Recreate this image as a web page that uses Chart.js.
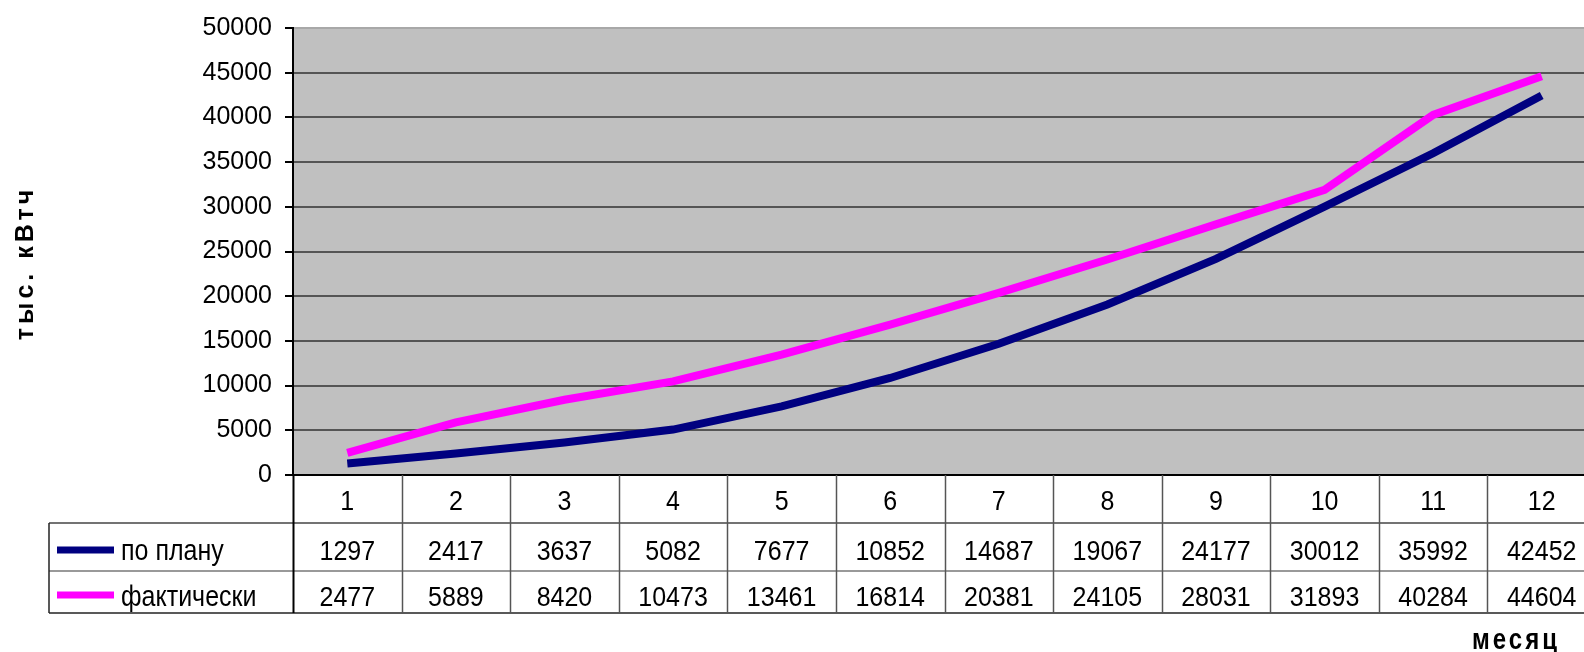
<!DOCTYPE html>
<html>
<head>
<meta charset="utf-8">
<script src="https://cdn.jsdelivr.net/npm/chart.js@4"></script>
<style>
  html, body { margin: 0; padding: 0; background: #fff; overflow: hidden; }
  #wrap { position: absolute; left: 0; top: 0; width: 1600px; height: 652px; }
</style>
</head>
<body>
<div id="wrap"><canvas id="c" width="1600" height="652"></canvas></div>
<script>
const months = ['1','2','3','4','5','6','7','8','9','10','11','12'];
const planValues = [1297, 2417, 3637, 5082, 7677, 10852, 14687, 19067, 24177, 30012, 35992, 42452];
const factValues = [2477, 5889, 8420, 10473, 13461, 16814, 20381, 24105, 28031, 31893, 40284, 44604];
const seriesNames = ['по плану', 'фактически'];
const yTitle = 'тыс. кВтч';
const xTitle = 'месяц';

const FONT = '"Liberation Sans", Arial, sans-serif';
const TXT = 25;
const SY = 1.13;

function txt(ctx, s, x, y, sy) {
  ctx.save();
  ctx.translate(x, y);
  ctx.scale(1, sy);
  ctx.fillText(s, 0, 0);
  ctx.restore();
}

const bgPlugin = {
  id: 'bg',
  beforeDraw(chart) {
    const {ctx, chartArea: a} = chart;
    ctx.save();
    ctx.fillStyle = '#C0C0C0';
    ctx.fillRect(a.left, a.top, a.right - a.left, a.bottom - a.top);
    ctx.restore();
  }
};

const tablePlugin = {
  id: 'table',
  afterDraw(chart) {
    const {ctx, chartArea: a} = chart;
    const xs = chart.scales.x;
    const n = months.length;
    const colW = (a.right - a.left) / n;
    const legendLeft = 49;
    const rowTop = a.bottom;          // 475
    const r1 = rowTop + 48;           // 523
    const r2 = r1 + 48;               // 571
    const r3 = r2 + 42;               // 613
    ctx.save();
    ctx.lineWidth = 1.5;
    ctx.strokeStyle = '#444';
    ctx.beginPath(); ctx.moveTo(legendLeft, r1); ctx.lineTo(chart.width, r1); ctx.stroke();
    ctx.strokeStyle = '#777';
    ctx.beginPath(); ctx.moveTo(legendLeft, r2); ctx.lineTo(chart.width, r2); ctx.stroke();
    ctx.strokeStyle = '#222';
    ctx.beginPath(); ctx.moveTo(legendLeft, r3); ctx.lineTo(chart.width, r3); ctx.stroke();
    ctx.beginPath(); ctx.moveTo(legendLeft, r1); ctx.lineTo(legendLeft, r3); ctx.stroke();
    for (let i = 0; i <= n; i++) {
      const x = Math.round(a.left + i * colW) + 0.5;
      ctx.strokeStyle = i === 0 ? '#000' : '#555';
      ctx.lineWidth = i === 0 ? 2 : 1.5;
      ctx.beginPath(); ctx.moveTo(x, rowTop); ctx.lineTo(x, r3); ctx.stroke();
    }
    ctx.fillStyle = '#000';
    ctx.font = TXT + 'px ' + FONT;
    ctx.textAlign = 'center';
    ctx.textBaseline = 'alphabetic';
    months.forEach((m, i) => {
      const x = xs.getPixelForValue(i);
      txt(ctx, m, x, rowTop + 35, SY);
      txt(ctx, String(planValues[i]), x, r1 + 37, SY);
      txt(ctx, String(factValues[i]), x, r2 + 35, SY);
    });
    const ds = chart.data.datasets;
    const rows = [[r1 + 27, r1 + 37], [r2 + 24, r2 + 35]];
    ds.forEach((d, k) => {
      const [cy, base] = rows[k];
      ctx.fillStyle = d.borderColor;
      ctx.fillRect(57, cy - 3.5, 57, 7);
      ctx.fillStyle = '#000';
      ctx.textAlign = 'left';
      ctx.font = TXT + 'px ' + FONT;
      txt(ctx, d.label, 121, base, 1.18);
    });
    ctx.font = 'bold 25px ' + FONT;
    try { ctx.letterSpacing = '4px'; } catch (e) {}
    ctx.textAlign = 'left';
    ctx.textBaseline = 'middle';
    ctx.save();
    ctx.translate(26, 263);
    ctx.rotate(-Math.PI / 2);
    const w = ctx.measureText(yTitle).width;
    ctx.fillText(yTitle, -w / 2, 0);
    ctx.restore();
    ctx.font = 'bold 24px ' + FONT;
    try { ctx.letterSpacing = '3px'; } catch (e) {}
    ctx.textBaseline = 'alphabetic';
    txt(ctx, xTitle, 1472, 649, 1.22);
    ctx.restore();
  }
};

new Chart(document.getElementById('c'), {
  type: 'line',
  data: {
    labels: months,
    datasets: [
      { label: seriesNames[0], data: planValues, borderColor: '#000080', backgroundColor: '#000080',
        borderWidth: 8, pointRadius: 0, tension: 0, borderCapStyle: 'butt', borderJoinStyle: 'miter' },
      { label: seriesNames[1], data: factValues, borderColor: '#FF00FF', backgroundColor: '#FF00FF',
        borderWidth: 8, pointRadius: 0, tension: 0, borderCapStyle: 'butt', borderJoinStyle: 'miter' }
    ]
  },
  options: {
    responsive: false,
    animation: false,
    devicePixelRatio: 1,
    layout: { padding: { left: 0, top: 24, right: 4, bottom: 0 } },
    plugins: { legend: { display: false }, tooltip: { enabled: false }, title: { display: false } },
    scales: {
      x: {
        type: 'category',
        offset: true,
        grid: { display: false },
        border: { display: true, color: '#000', width: 2 },
        ticks: { display: false },
        afterFit(scale) { scale.height = 177; }
      },
      y: {
        min: 0, max: 50000,
        ticks: { stepSize: 5000, color: '#000', font: { family: FONT, size: TXT }, padding: 13,
                 callback: (v) => String(v) },
        grid: {
          color: (c) => (c.tick && c.tick.value === 50000) ? '#a8a8a8' : '#555',
          lineWidth: 2,
          tickLength: 8,
          tickColor: '#000'
        },
        border: { display: true, color: '#000', width: 2 },
        afterFit(scale) { scale.width = 293; }
      }
    }
  },
  plugins: [bgPlugin, tablePlugin]
});
</script>
</body>
</html>
